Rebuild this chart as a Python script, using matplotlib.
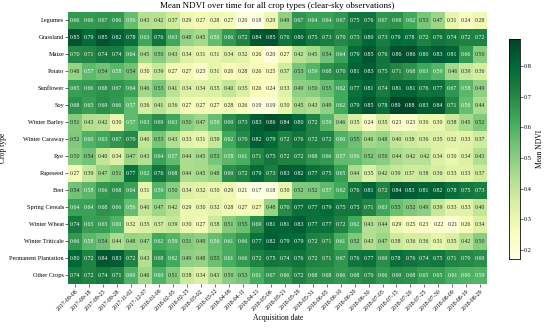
import numpy as np
import pandas as pd
import seaborn as sns
import matplotlib
matplotlib.use("Agg")
import matplotlib.pyplot as plt

plt.rcParams['font.family'] = ['Liberation Serif', 'DejaVu Serif']

dates = ["2017-09-08", "2017-09-18", "2017-09-23", "2017-09-28", "2017-11-02",
         "2017-12-07", "2018-01-06", "2018-02-05", "2018-02-25", "2018-03-02",
         "2018-03-22", "2018-04-06", "2018-04-11", "2018-04-21", "2018-05-06",
         "2018-05-21", "2018-05-26", "2018-05-31", "2018-06-05", "2018-06-10",
         "2018-06-20", "2018-06-30", "2018-07-05", "2018-07-15", "2018-07-20",
         "2018-07-25", "2018-07-30", "2018-08-09", "2018-08-19", "2018-08-29"]

crops = ["Legumes", "Grassland", "Maize", "Potato", "Sunflower", "Soy",
         "Winter Barley", "Winter Caraway", "Rye", "Rapeseed", "Beet",
         "Spring Cereals", "Winter Wheat", "Winter Triticale",
         "Permanent Plantation", "Other Crops"]

# mean NDVI per crop, one list per row
legumes = [0.66, 0.66, 0.67, 0.66, 0.56, 0.43, 0.42, 0.37, 0.29, 0.27, 0.28, 0.27, 0.20, 0.18, 0.29,
           0.49, 0.67, 0.64, 0.64, 0.67, 0.75, 0.76, 0.67, 0.68, 0.62, 0.53, 0.47, 0.31, 0.24, 0.28]
grassland = [0.85, 0.79, 0.85, 0.82, 0.78, 0.63, 0.76, 0.63, 0.48, 0.45, 0.56, 0.66, 0.72, 0.84, 0.85,
             0.76, 0.80, 0.75, 0.73, 0.70, 0.73, 0.80, 0.73, 0.79, 0.78, 0.72, 0.76, 0.74, 0.72, 0.72]
maize = [0.70, 0.71, 0.74, 0.74, 0.64, 0.45, 0.50, 0.43, 0.34, 0.31, 0.31, 0.34, 0.32, 0.26, 0.20,
         0.27, 0.42, 0.45, 0.54, 0.64, 0.79, 0.85, 0.76, 0.86, 0.86, 0.80, 0.83, 0.81, 0.66, 0.50]
potato = [0.48, 0.57, 0.54, 0.58, 0.54, 0.30, 0.39, 0.27, 0.27, 0.23, 0.31, 0.26, 0.28, 0.26, 0.25,
          0.37, 0.53, 0.59, 0.68, 0.70, 0.81, 0.83, 0.75, 0.71, 0.68, 0.63, 0.59, 0.46, 0.39, 0.36]
sunflower = [0.65, 0.66, 0.68, 0.67, 0.64, 0.46, 0.53, 0.41, 0.34, 0.34, 0.35, 0.40, 0.35, 0.26, 0.24,
             0.33, 0.49, 0.50, 0.55, 0.62, 0.77, 0.81, 0.74, 0.81, 0.81, 0.76, 0.77, 0.67, 0.58, 0.49]
soy = [0.68, 0.65, 0.69, 0.66, 0.57, 0.36, 0.41, 0.36, 0.27, 0.27, 0.27, 0.28, 0.26, 0.19, 0.19,
       0.30, 0.45, 0.43, 0.49, 0.62, 0.79, 0.85, 0.78, 0.89, 0.88, 0.83, 0.84, 0.71, 0.56, 0.44]
winter_barley = [0.51, 0.43, 0.42, 0.30, 0.57, 0.63, 0.69, 0.63, 0.50, 0.47, 0.56, 0.69, 0.73, 0.83, 0.86,
                 0.84, 0.80, 0.72, 0.59, 0.46, 0.35, 0.24, 0.35, 0.23, 0.23, 0.30, 0.30, 0.38, 0.45, 0.52]
winter_caraway = [0.52, 0.60, 0.63, 0.67, 0.70, 0.40, 0.53, 0.43, 0.33, 0.31, 0.39, 0.62, 0.70, 0.82, 0.79,
                  0.72, 0.76, 0.72, 0.72, 0.60, 0.55, 0.46, 0.48, 0.40, 0.38, 0.36, 0.35, 0.32, 0.33, 0.37]
rye = [0.50, 0.54, 0.40, 0.34, 0.47, 0.43, 0.64, 0.57, 0.44, 0.45, 0.53, 0.58, 0.61, 0.71, 0.75,
       0.72, 0.72, 0.68, 0.66, 0.57, 0.56, 0.52, 0.50, 0.44, 0.42, 0.42, 0.34, 0.30, 0.34, 0.43]
rapeseed = [0.27, 0.39, 0.47, 0.51, 0.77, 0.62, 0.76, 0.68, 0.44, 0.45, 0.48, 0.69, 0.72, 0.79, 0.73,
            0.83, 0.82, 0.77, 0.75, 0.65, 0.44, 0.35, 0.42, 0.39, 0.37, 0.38, 0.36, 0.33, 0.33, 0.37]
beet = [0.54, 0.58, 0.66, 0.68, 0.64, 0.31, 0.59, 0.50, 0.34, 0.32, 0.30, 0.29, 0.21, 0.17, 0.18,
        0.30, 0.52, 0.52, 0.57, 0.62, 0.76, 0.81, 0.72, 0.84, 0.83, 0.81, 0.82, 0.78, 0.75, 0.73]
spring_cereals = [0.64, 0.64, 0.68, 0.66, 0.56, 0.40, 0.47, 0.42, 0.29, 0.30, 0.32, 0.28, 0.27, 0.27, 0.48,
                  0.70, 0.77, 0.77, 0.79, 0.75, 0.75, 0.71, 0.63, 0.55, 0.52, 0.49, 0.39, 0.33, 0.33, 0.40]
winter_wheat = [0.74, 0.65, 0.65, 0.60, 0.32, 0.35, 0.37, 0.39, 0.30, 0.27, 0.38, 0.51, 0.55, 0.69, 0.81,
                0.81, 0.83, 0.77, 0.77, 0.72, 0.62, 0.43, 0.44, 0.29, 0.25, 0.23, 0.22, 0.21, 0.26, 0.34]
winter_triticale = [0.66, 0.58, 0.54, 0.44, 0.48, 0.47, 0.62, 0.59, 0.51, 0.49, 0.56, 0.61, 0.66, 0.77, 0.82,
                    0.79, 0.79, 0.72, 0.71, 0.61, 0.52, 0.43, 0.47, 0.38, 0.36, 0.36, 0.31, 0.35, 0.42, 0.50]
permanent_plantation = [0.80, 0.72, 0.84, 0.83, 0.72, 0.43, 0.68, 0.62, 0.49, 0.48, 0.55, 0.61, 0.66, 0.72, 0.75,
                        0.74, 0.76, 0.72, 0.71, 0.67, 0.76, 0.77, 0.69, 0.78, 0.76, 0.74, 0.75, 0.71, 0.70, 0.69]
other_crops = [0.74, 0.72, 0.74, 0.71, 0.60, 0.46, 0.60, 0.51, 0.38, 0.34, 0.43, 0.50, 0.53, 0.61, 0.67,
               0.66, 0.72, 0.68, 0.68, 0.66, 0.68, 0.70, 0.66, 0.69, 0.68, 0.65, 0.65, 0.61, 0.60, 0.59]

rows = [legumes, grassland, maize, potato, sunflower, soy, winter_barley, winter_caraway,
        rye, rapeseed, beet, spring_cereals, winter_wheat, winter_triticale,
        permanent_plantation, other_crops]
df = pd.DataFrame(rows, index=crops, columns=dates)

fig = plt.figure(figsize=(5.5, 3.31), dpi=100)
ax = fig.add_axes([0.124, 0.142, 0.762, 0.822])
cax = fig.add_axes([0.925, 0.218, 0.02, 0.665])

sns.heatmap(df, ax=ax, cbar_ax=cax, cmap="YlGn", annot=True, fmt=".2f",
            xticklabels=1, yticklabels=1,
            annot_kws={"size": 4.2}, cbar_kws={"label": "Mean NDVI"})

ax.set_title("Mean NDVI over time for all crop types (clear-sky observations)", fontsize=6.5, pad=3)
ax.set_xlabel("Acquisition date", fontsize=5.5, labelpad=2)
ax.set_ylabel("Crop type", fontsize=5.5, labelpad=2)
ax.set_xticklabels(dates, rotation=45, ha="right", rotation_mode="anchor", fontsize=4.2)
ax.set_yticklabels(crops, rotation=0, fontsize=4.5)
ax.tick_params(axis="both", length=2, width=0.4, pad=1)

cax.tick_params(labelsize=4.5, length=2, width=0.4, pad=1)
cax.set_ylabel("Mean NDVI", fontsize=5.5, labelpad=3)
for s in cax.spines.values():
    s.set_visible(True)
    s.set_linewidth(0.4)

fig.savefig("out.png", dpi=100)
